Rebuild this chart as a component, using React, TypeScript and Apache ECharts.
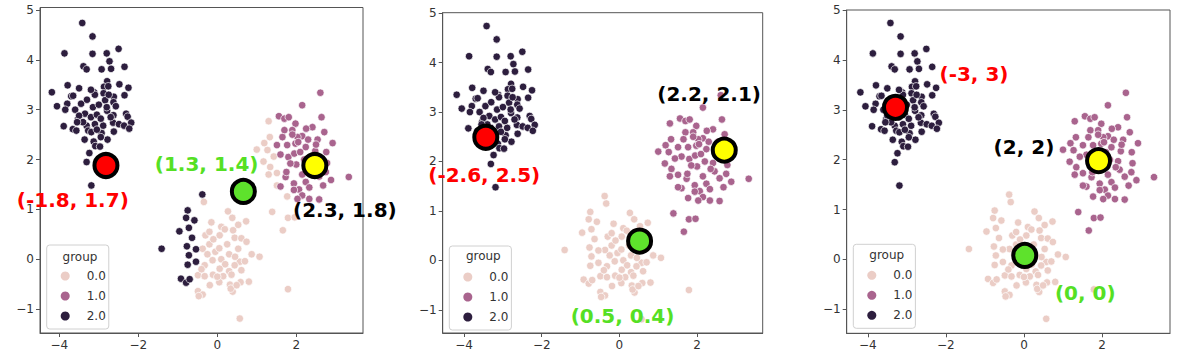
import React, { useEffect, useRef } from 'react';
import * as echarts from 'echarts';

// ---------- data ----------
const groupNames = ['0.0', '1.0', '2.0'];
const groupColors = ['#ebcdc6', '#a9648e', '#2d1e3e'];

// upper-left blob (group 2 everywhere)
const darkPts: number[][] = [
  [-3.42, 4.74], [-3.16, 4.47], [-3.87, 4.13], [-3.16, 4.12], [-2.80, 4.13], [-2.50, 4.22], [-2.73, 3.97],
  [-3.39, 3.87], [-3.31, 3.81], [-2.93, 3.81], [-2.69, 3.82], [-2.35, 3.86], [-2.79, 3.57], [-3.79, 3.49],
  [-3.50, 3.43], [-2.87, 3.46], [-2.76, 3.47], [-2.48, 3.51], [-2.25, 3.44], [-4.19, 3.35], [-3.70, 3.27],
  [-3.12, 3.35], [-2.88, 3.33], [-2.62, 3.26], [-2.35, 3.29], [-4.06, 3.07], [-3.80, 3.12], [-3.85, 3.00],
  [-2.84, 3.19], [-2.63, 3.15], [-2.57, 3.07], [-2.79, 2.98], [-2.63, 2.89], [-2.31, 2.92], [-3.89, 2.67],
  [-3.66, 2.61], [-3.57, 2.58], [-3.53, 2.81], [-3.31, 2.68], [-3.10, 2.71], [-2.89, 2.68], [-3.27, 2.58],
  [-3.19, 2.55], [-2.93, 2.53], [-2.64, 2.74], [-2.49, 2.71], [-2.36, 2.68], [-2.27, 2.86], [-2.18, 2.74],
  [-2.23, 2.62], [-2.62, 2.56], [-3.36, 2.40], [-3.13, 2.36], [-3.09, 2.27], [-2.97, 2.26], [-2.78, 2.40],
  [-3.24, 2.13], [-3.31, 1.95], [-3.19, 1.48], [-3.60, 3.00], [-3.45, 3.12], [-3.30, 3.20], [-3.15, 3.05],
  [-3.00, 3.10], [-3.35, 2.92], [-3.20, 2.85], [-3.05, 2.90], [-2.95, 2.82], [-3.50, 2.88], [-3.65, 3.28],
  [-3.10, 3.30], [-2.70, 2.85], [-3.40, 2.75], [-2.80, 3.05], [-3.55, 2.75], [-3.05, 2.60], [-2.95, 2.45],
  [-3.20, 3.40], [-2.75, 3.30],
];

// right blob, group 1 in every panel
const purpleMain: number[][] = [
  [2.61, 3.34], [2.15, 3.09], [1.56, 2.87], [1.70, 2.82], [1.81, 2.85], [1.98, 2.72], [2.64, 2.85],
  [2.41, 2.65], [1.70, 2.59], [1.90, 2.59], [2.15, 2.47], [2.03, 2.45], [2.71, 2.55], [2.92, 2.33],
  [2.54, 2.40], [1.51, 2.29], [1.77, 2.29], [1.98, 2.32], [2.24, 2.25], [2.48, 2.17], [2.76, 2.15],
  [2.41, 1.97], [2.78, 1.93], [2.45, 1.80], [2.75, 1.75], [2.58, 1.66], [2.88, 1.59], [3.33, 1.65],
  [1.94, 1.52], [2.24, 1.55], [1.60, 1.46], [2.07, 1.40], [2.33, 1.44], [2.68, 1.48], [1.94, 1.39],
  [2.15, 1.28], [2.33, 1.21], [2.58, 1.20], [2.03, 1.21], [1.73, 1.65], [1.80, 2.05], [2.00, 1.90],
  [1.95, 2.12], [1.85, 1.92], [2.20, 2.00], [2.10, 2.15], [1.60, 2.10], [2.30, 2.40], [1.65, 2.45],
  [2.05, 2.35], [2.35, 1.85], [1.75, 1.75], [2.15, 1.70], [1.90, 2.50], [2.50, 2.30], [2.25, 2.62],
];

// right blob, left/lower edge: group 0 in panel 1, group 1 afterwards
const purpleLeft: number[][] = [
  [1.30, 2.77], [1.33, 2.45], [1.19, 2.33], [1.00, 2.20], [1.27, 2.19], [1.17, 1.96], [1.43, 2.06],
  [1.34, 1.85], [1.30, 1.70], [1.51, 1.73], [1.51, 1.48], [1.77, 1.26], [1.39, 0.95], [1.79, 0.83],
  [1.96, 0.84], [1.66, 0.58],
];

// lower blob, left edge: group 2 in panel 1, group 0 afterwards
const pinkLeft: number[][] = [
  [-0.38, 1.30], [-0.75, 0.98], [-0.79, 0.83], [-0.58, 0.78], [-0.72, 0.63], [-0.96, 0.56], [-0.64, 0.43],
  [-0.77, 0.26], [-0.54, 0.20], [-1.41, 0.21], [-0.72, 0.08], [-0.54, -0.05], [-0.75, -0.11], [-0.92, -0.39],
  [-0.79, -0.47], [-0.70, -0.40],
];

// lower blob, group 0 everywhere
const pinkMain: number[][] = [
  [-0.34, 1.15], [0.27, 0.96], [0.38, 0.83], [-0.15, 0.74], [0.73, 0.76], [0.53, 0.69], [0.10, 0.65],
  [0.19, 0.60], [0.40, 0.58], [-0.30, 0.48], [0.06, 0.48], [0.44, 0.43], [0.61, 0.42], [0.74, 0.35],
  [-0.37, 0.21], [-0.20, 0.30], [0.53, 0.21], [0.87, 0.10], [1.07, 0.05], [0.57, -0.05], [0.70, -0.04],
  [0.44, -0.12], [-0.32, -0.12], [0.06, -0.19], [0.30, -0.24], [0.61, -0.22], [-0.49, -0.32], [-0.32, -0.34],
  [-0.11, -0.31], [0.15, -0.34], [0.36, -0.31], [0.59, -0.46], [0.05, -0.46], [0.32, -0.51], [-0.19, -0.52],
  [-0.49, -0.64], [-0.37, -0.71], [-0.47, -0.74], [0.39, -0.65], [0.34, -0.59], [0.49, -0.52], [0.57, -1.19],
  [-0.05, 0.15], [0.10, 0.00], [0.05, 0.22], [-0.12, -0.02], [-0.25, 0.10], [0.25, 0.30], [0.30, 0.10],
  [-0.20, 0.55], [0.00, -0.35], [-0.40, -0.20], [0.20, -0.10], [-0.10, 0.40], [0.45, 0.05], [1.79, -0.60],
  [0.80, -0.45],
];

// centroids (red, green, yellow)
const centroidColors = ['#ff0000', '#5ee22c', '#ffff00'];
const centroids1 = [[-2.82, 1.88], [0.66, 1.36], [2.47, 1.88]];
const centroids2 = [[-3.44, 2.49], [0.52, 0.39], [2.70, 2.23]];
const centroids3 = [[-3.29, 3.05], [0.02, 0.08], [1.91, 1.98]];

// annotation texts
const labelColors = ['#ff0000', '#55e024', '#000000'];
const labelTexts1 = ['(-1.8, 1.7)', '(1.3, 1.4)', '(2.3, 1.8)'];
const labelAt1 = [[-3.66, 1.18], [-0.27, 1.91], [3.23, 0.99]];
const labelTexts2 = ['(-2.6, 2.5)', '(0.5, 0.4)', '(2.2, 2.1)'];
const labelAt2 = [[-3.48, 1.72], [0.08, -1.13], [2.31, 3.37]];
const labelTexts3 = ['(-3, 3)', '(0, 0)', '(2, 2)'];
const labelAt3 = [[-1.28, 3.71], [1.57, -0.67], [0.0, 2.25]];

const xTicks = [-4, -2, 0, 2];
const yTicks = [-1, 0, 1, 2, 3, 4, 5];

// ---------- layout ----------
const panels = [
  { left: 40, top: 7.5, width: 323, height: 325.5, xMin: -4.49, xMax: 3.69, yMin: -1.48, yMax: 5.05, lgLeft: 46.7, lgTop: 245, titleX: 80, titleY: 257 },
  { left: 442.7, top: 12.7, width: 320, height: 320.3, xMin: -4.55, xMax: 3.69, yMin: -1.47, yMax: 5.01, lgLeft: 449.3, lgTop: 246, titleX: 483.3, titleY: 256 },
  { left: 846.7, top: 10, width: 323.3, height: 323.3, xMin: -4.54, xMax: 3.74, yMin: -1.48, yMax: 5.0, lgLeft: 853.3, lgTop: 244.3, titleX: 886.7, titleY: 255.3 },
];

const groupsByPanel = [
  [pinkMain.concat(purpleLeft), purpleMain, darkPts.concat(pinkLeft)],
  [pinkMain.concat(pinkLeft), purpleMain.concat(purpleLeft), darkPts],
  [pinkMain.concat(pinkLeft), purpleMain.concat(purpleLeft), darkPts],
];
const centroidsByPanel = [centroids1, centroids2, centroids3];
const labelsByPanel = [
  [labelTexts1, labelAt1],
  [labelTexts2, labelAt2],
  [labelTexts3, labelAt3],
];

const fmt = (v: number) => (v < 0 ? '\u2212' + Math.abs(v) : String(v));
const axisColor = '#555';
const tickFont = { fontSize: 12, fontFamily: 'DejaVu Sans', color: '#333' };

export default function App() {
  const ref = useRef<HTMLDivElement>(null);
  useEffect(() => {
    if (!ref.current) return;
    const chart = echarts.init(ref.current, undefined, { renderer: 'svg' });
    const grid = panels.map((p) => ({
      left: p.left, top: p.top, width: p.width, height: p.height,
      show: true, borderColor: axisColor, borderWidth: 1, backgroundColor: 'transparent',
    }));
    const xAxis = panels.map((p, i) => ({
      type: 'value', gridIndex: i, min: p.xMin, max: p.xMax,
      axisLine: { show: true, onZero: false, lineStyle: { color: axisColor, width: 1 } },
      axisTick: { show: true, length: 4, customValues: xTicks, lineStyle: { color: axisColor } },
      axisLabel: { ...tickFont, customValues: xTicks, formatter: fmt, margin: 6 },
      splitLine: { show: false },
    }));
    const yAxis = panels.map((p, i) => ({
      type: 'value', gridIndex: i, min: p.yMin, max: p.yMax,
      axisLine: { show: true, onZero: false, lineStyle: { color: axisColor, width: 1 } },
      axisTick: { show: true, length: 4, customValues: yTicks, lineStyle: { color: axisColor } },
      axisLabel: { ...tickFont, customValues: yTicks, formatter: fmt, margin: 6 },
      splitLine: { show: false },
    }));
    const series: any[] = [];
    panels.forEach((p, i) => {
      groupsByPanel[i].forEach((pts, g) => {
        series.push({
          type: 'scatter', name: groupNames[g], xAxisIndex: i, yAxisIndex: i,
          data: pts, symbolSize: 7.5,
          itemStyle: { color: groupColors[g], borderColor: '#ffffff', borderWidth: 0.7, opacity: 1 },
          z: 2 + g * 0.1,
        });
      });
      series.push({
        type: 'scatter', name: 'centroid', xAxisIndex: i, yAxisIndex: i, clip: false,
        data: centroidsByPanel[i].map((c, j) => ({ value: c, itemStyle: { color: centroidColors[j] } })),
        symbolSize: 23, itemStyle: { borderColor: '#000', borderWidth: 4, opacity: 1 }, z: 5,
      });
      const [texts, at] = labelsByPanel[i] as [string[], number[][]];
      series.push({
        type: 'scatter', name: 'label', xAxisIndex: i, yAxisIndex: i, clip: false, silent: true,
        symbolSize: 1, itemStyle: { color: 'rgba(0,0,0,0)', opacity: 1 },
        data: at.map((c, j) => ({
          value: c, name: texts[j],
          label: { show: true, position: 'inside', formatter: texts[j], color: labelColors[j],
            fontSize: 20, fontWeight: 'bold', fontFamily: 'DejaVu Sans' },
        })),
        z: 6,
      });
    });
    const legend = panels.map((p) => ({
      data: groupNames, orient: 'vertical', left: p.lgLeft, top: p.lgTop, icon: 'circle',
      itemWidth: 21, itemHeight: 9, itemGap: 6, padding: [24, 3, 6, 14],
      borderColor: '#d0d0d0', borderWidth: 1, borderRadius: 3, backgroundColor: 'rgba(255,255,255,0.8)',
      selectedMode: false, itemStyle: { borderWidth: 0, opacity: 1 },
      textStyle: { fontSize: 12, fontFamily: 'DejaVu Sans', color: '#333', lineHeight: 14, padding: [0, 0, 0, 6] },
    }));
    const graphic = panels.map((p) => ({
      type: 'text', x: p.titleX, y: p.titleY, z: 10,
      style: { text: 'group', fontSize: 12, fontFamily: 'DejaVu Sans', fill: '#333', textAlign: 'center', textVerticalAlign: 'middle' },
    }));
    chart.setOption({
      animation: false,
      backgroundColor: '#ffffff',
      grid, xAxis, yAxis, series, legend, graphic,
    } as any);
    return () => chart.dispose();
  }, []);
  return <div ref={ref} style={{ position: 'fixed', left: 0, top: 0, width: 1177, height: 357 }} />;
}
